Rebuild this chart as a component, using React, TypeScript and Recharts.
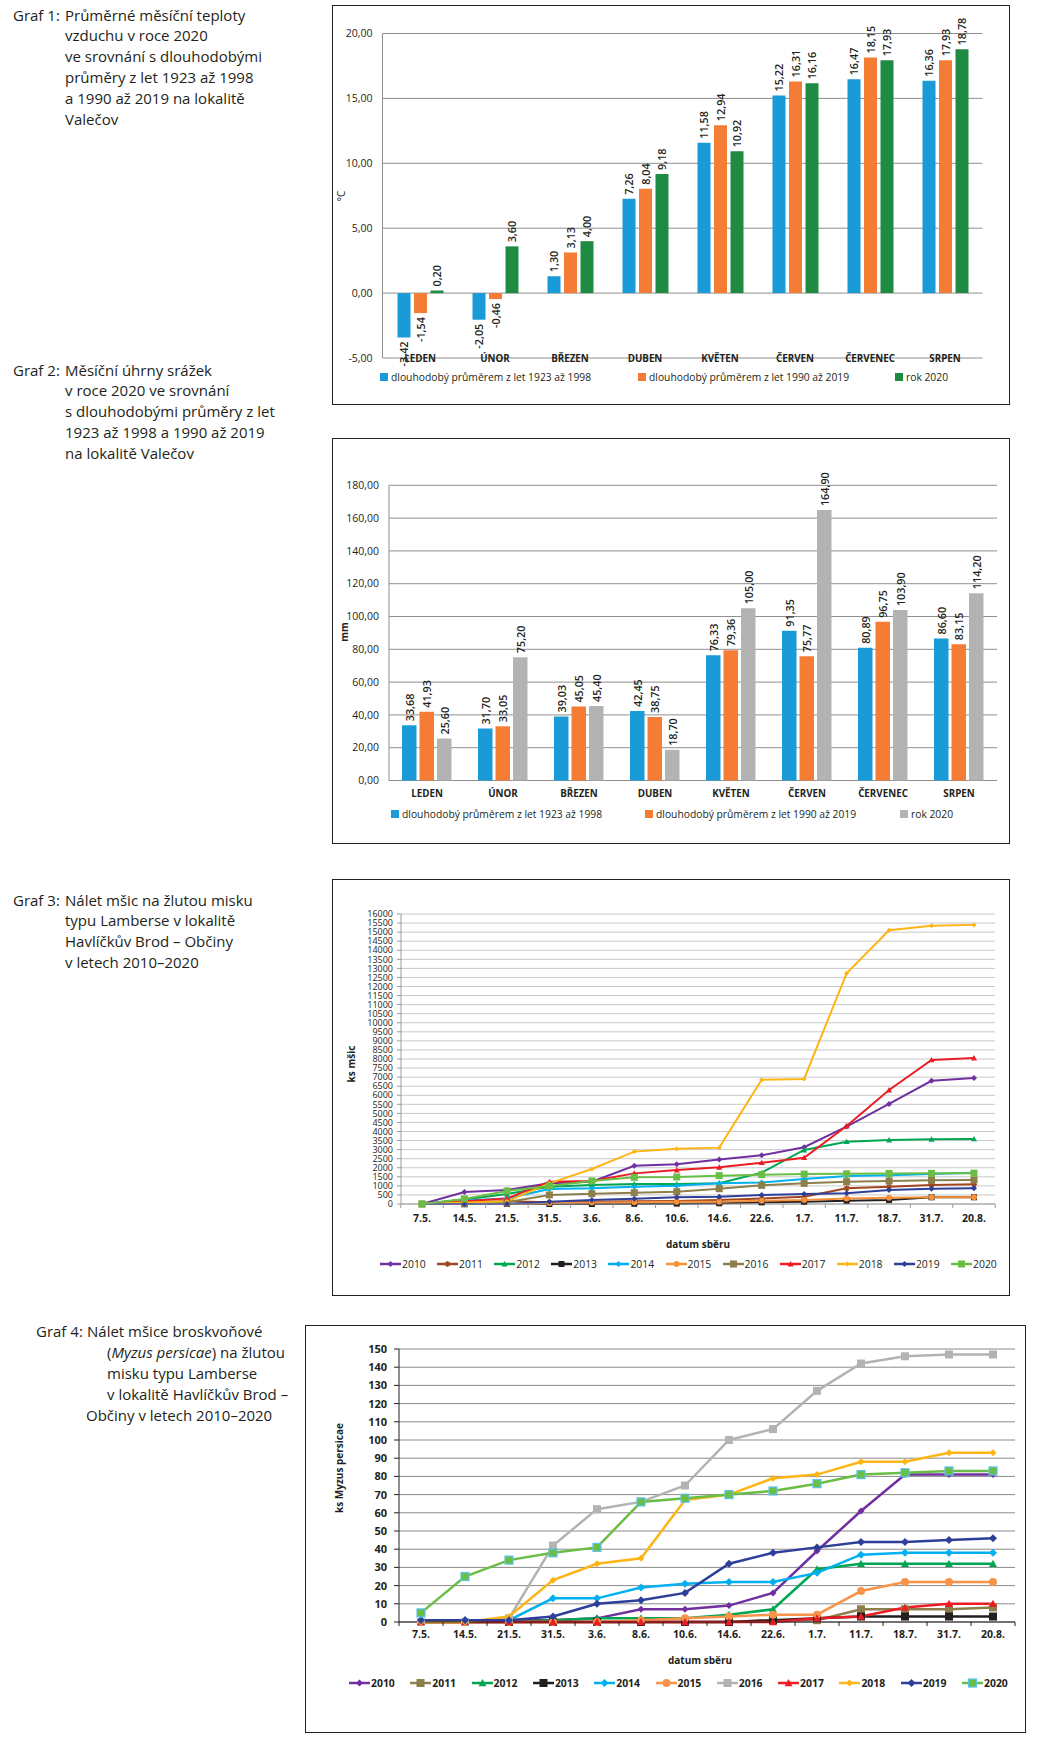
import React from 'react';
import { BarChart, Bar, LineChart, Line, XAxis, YAxis, CartesianGrid, LabelList } from 'recharts';

const FONT = '"Open Sans", "Noto Sans", "DejaVu Sans", sans-serif';
const INK = '#231F20';

// Graf 1 + 2: monthly values
const months = ['LEDEN', 'ÚNOR', 'BŘEZEN', 'DUBEN', 'KVĚTEN', 'ČERVEN', 'ČERVENEC', 'SRPEN'];
const tempOld = [-3.42, -2.05, 1.3, 7.26, 11.58, 15.22, 16.47, 16.36];
const tempRecent = [-1.54, -0.46, 3.13, 8.04, 12.94, 16.31, 18.15, 17.93];
const temp2020 = [0.2, 3.6, 4.0, 9.18, 10.92, 16.16, 17.93, 18.78];
const tempTicks = [-5, 0, 5, 10, 15, 20];

const rainOld = [33.68, 31.7, 39.03, 42.45, 76.33, 91.35, 80.89, 86.6];
const rainRecent = [41.93, 33.05, 45.05, 38.75, 79.36, 75.77, 96.75, 83.15];
const rain2020 = [25.6, 75.2, 45.4, 18.7, 105.0, 164.9, 103.9, 114.2];
const rainTicks = [0, 20, 40, 60, 80, 100, 120, 140, 160, 180];

const barNames = ['dlouhodobý průměrem z let 1923 až 1998', 'dlouhodobý průměrem z let 1990 až 2019', 'rok 2020'];

// Graf 3 + 4: collection dates
const dates = ['7.5.', '14.5.', '21.5.', '31.5.', '3.6.', '8.6.', '10.6.', '14.6.', '22.6.', '1.7.', '11.7.', '18.7.', '31.7.', '20.8.'];
const years = ['2010', '2011', '2012', '2013', '2014', '2015', '2016', '2017', '2018', '2019', '2020'];

const aphids2010 = [0, 660, 770, 1140, 1230, 2110, 2190, 2460, 2690, 3130, 4270, 5520, 6800, 6950];
const aphids2011 = [0, 120, 150, 100, 130, 150, 170, 220, 300, 405, 865, 955, 1050, 1085];
const aphids2012 = [0, 250, 550, 950, 1050, 1100, 1100, 1140, 1730, 2980, 3440, 3530, 3570, 3590];
const aphids2013 = [0, 0, 0, 0, 0, 10, 20, 40, 90, 130, 185, 220, 370, 370];
const aphids2014 = [0, 200, 310, 830, 865, 955, 1010, 1140, 1180, 1380, 1545, 1580, 1655, 1730];
const aphids2015 = [0, 0, 0, 50, 80, 100, 120, 130, 185, 220, 310, 350, 370, 370];
const aphids2016 = [0, 0, 100, 500, 570, 625, 680, 845, 1030, 1140, 1230, 1270, 1305, 1325];
const aphids2017 = [0, 150, 310, 1230, 1270, 1690, 1875, 2025, 2280, 2555, 4300, 6290, 7950, 8050];
const aphids2018 = [0, 80, 150, 1140, 1930, 2890, 3055, 3110, 6850, 6900, 12730, 15100, 15350, 15400];
const aphids2019 = [0, 0, 0, 130, 220, 295, 370, 405, 500, 550, 590, 775, 845, 865];
const aphids2020 = [0, 280, 720, 995, 1270, 1470, 1490, 1565, 1620, 1650, 1665, 1685, 1690, 1700];
const aphidTicks = [0, 500, 1000, 1500, 2000, 2500, 3000, 3500, 4000, 4500, 5000, 5500, 6000, 6500, 7000, 7500, 8000,
  8500, 9000, 9500, 10000, 10500, 11000, 11500, 12000, 12500, 13000, 13500, 14000, 14500, 15000, 15500, 16000];

const myzus2010 = [1, 1, 1, 1, 2, 7, 7, 9, 16, 39, 61, 81, 81, 81];
const myzus2011 = [0, 0, 0, 0, 0, 0, 0, 0, 1, 1, 7, 7, 7, 8];
const myzus2012 = [0, 0, 0, 1, 2, 2, 2, 4, 7, 29, 32, 32, 32, 32];
const myzus2013 = [0, 0, 0, 0, 0, 0, 0, 0, 1, 2, 3, 3, 3, 3];
const myzus2014 = [1, 1, 1, 13, 13, 19, 21, 22, 22, 27, 37, 38, 38, 38];
const myzus2015 = [0, 0, 0, 0, 0, 1, 2, 3, 4, 4, 17, 22, 22, 22];
const myzus2016 = [0, 0, 2, 42, 62, 66, 75, 100, 106, 127, 142, 146, 147, 147];
const myzus2017 = [0, 0, 0, 0, 0, 0, 0, 0, 0, 2, 3, 8, 10, 10];
const myzus2018 = [0, 0, 3, 23, 32, 35, 67, 70, 79, 81, 88, 88, 93, 93];
const myzus2019 = [1, 1, 1, 3, 10, 12, 16, 32, 38, 41, 44, 44, 45, 46];
const myzus2020 = [5, 25, 34, 38, 41, 66, 68, 70, 72, 76, 81, 82, 83, 83];
const myzusTicks = [0, 10, 20, 30, 40, 50, 60, 70, 80, 90, 100, 110, 120, 130, 140, 150];

// styling
const barColorsTemp = ['#1A9AD7', '#F47C34', '#1F8A42'];
const barColorsRain = ['#1A9AD7', '#F47C34', '#B3B3B3'];

const aphidColors = ['#7030A0', '#A0451F', '#00A651', INK, '#00B0F0', '#F7903A', '#8C7F4B', '#ED1C24', '#FDB515', '#2E3F99', '#6ABD45'];
const aphidShapes = ['diamond', 'star', 'triangle', 'square', 'diamond', 'circle', 'square', 'triangle', 'diamond', 'diamond', 'square'];
const aphidSizes = [6, 6, 6, 6, 6, 6, 7, 6, 5, 6, 7];

const myzusColors = ['#7030A0', '#8C7F4B', '#00A651', INK, '#00B0F0', '#F7944A', '#B3B3B3', '#ED1C24', '#FDB515', '#2E3F99', '#6ABD45'];
const myzusShapes = ['diamond', 'square', 'triangle', 'square', 'diamond', 'circle', 'square', 'triangle', 'diamond', 'diamond', 'square'];
const myzusSizes = [7, 8, 8, 8, 8, 8, 8, 8, 7, 8, 8];
const myzusOutline = [null, null, null, null, null, null, null, null, null, null, '#5BC3EE'];

const tempRows = months.map((m, i) => ({ month: m, old: tempOld[i], recent: tempRecent[i], now: temp2020[i] }));
const rainRows = months.map((m, i) => ({ month: m, old: rainOld[i], recent: rainRecent[i], now: rain2020[i] }));

const aphidSeries = [aphids2010, aphids2011, aphids2012, aphids2013, aphids2014, aphids2015, aphids2016, aphids2017, aphids2018, aphids2019, aphids2020];
const myzusSeries = [myzus2010, myzus2011, myzus2012, myzus2013, myzus2014, myzus2015, myzus2016, myzus2017, myzus2018, myzus2019, myzus2020];

const toRows = (series: number[][]) =>
  dates.map((d, i) => {
    const row: any = { date: d };
    years.forEach((y, k) => { row['y' + y] = series[k][i]; });
    return row;
  });

const aphidRows = toRows(aphidSeries);
const myzusRows = toRows(myzusSeries);

const fmt = (v: number) => v.toFixed(2).replace('.', ',');

function Marker({ shape, cx, cy, size, fill, stroke }: any) {
  const r = size / 2;
  if (shape === 'square')
    return <rect x={cx - r} y={cy - r} width={size} height={size} fill={fill} stroke={stroke || 'none'} strokeWidth={stroke ? 1.2 : 0} />;
  if (shape === 'circle') return <circle cx={cx} cy={cy} r={r} fill={fill} />;
  if (shape === 'triangle')
    return <polygon points={`${cx},${cy - r} ${cx + r},${cy + r * 0.8} ${cx - r},${cy + r * 0.8}`} fill={fill} />;
  if (shape === 'star') {
    const d = r * 0.7;
    return (
      <path
        d={`M${cx - r},${cy}H${cx + r}M${cx},${cy - r}V${cy + r}M${cx - d},${cy - d}L${cx + d},${cy + d}M${cx - d},${cy + d}L${cx + d},${cy - d}`}
        stroke={fill}
        strokeWidth={1.3}
      />
    );
  }
  return <polygon points={`${cx},${cy - r} ${cx + r},${cy} ${cx},${cy + r} ${cx - r},${cy}`} fill={fill} />;
}

const dotFor = (shape: string, color: string, size: number, stroke?: string | null) => (props: any) => {
  const { cx, cy, index } = props;
  if (cx == null || cy == null) return <g key={index} />;
  return <Marker key={index} shape={shape} cx={cx} cy={cy} size={size} fill={color} stroke={stroke} />;
};

const renderValueLabel = (props: any) => {
  const vb = props.viewBox && props.viewBox.width != null ? props.viewBox : props;
  const { x, y, width, height } = vb;
  const value = Number(props.value);
  const cx = x + width / 2;
  const top = Math.min(y, y + height);
  const bottom = Math.max(y, y + height);
  const neg = value < 0;
  const ay = neg ? bottom + 4 : top - 4;
  return (
    <text
      x={cx}
      y={ay}
      transform={`rotate(-90 ${cx} ${ay})`}
      textAnchor={neg ? 'end' : 'start'}
      dominantBaseline="central"
      fontSize={10.8}
      fontWeight={600}
      fontFamily={FONT}
      fill={INK}
    >
      {fmt(value)}
    </text>
  );
};

function MonthTick(props: any) {
  const { x, y, payload, labelDy } = props;
  return (
    <text x={x} y={y + labelDy} textAnchor="middle" fontSize={9.8} fontWeight={700} fontFamily={FONT} fill={INK}>
      {payload.value}
    </text>
  );
}

function DateTick(props: any) {
  const { x, y, payload, index, halfStep, total, markStroke, labelDy, weight, size } = props;
  return (
    <g>
      <line x1={x - halfStep} y1={y} x2={x - halfStep} y2={y + 4} stroke={markStroke} />
      {index === total - 1 && <line x1={x + halfStep} y1={y} x2={x + halfStep} y2={y + 4} stroke={markStroke} />}
      <text x={x} y={y + labelDy} textAnchor="middle" fontSize={size} fontWeight={weight} fontFamily={FONT} fill={INK}>
        {payload.value}
      </text>
    </g>
  );
}

function MonthBars({ rows, colors, ticks, width, height, margin, yWidth, barSize, barGap, monthDy }: any) {
  const keys = ['old', 'recent', 'now'];
  return (
    <BarChart width={width} height={height} data={rows} margin={margin} barGap={barGap}>
      <CartesianGrid vertical={false} stroke="#8f8f8f" />
      <XAxis
        dataKey="month"
        interval={0}
        axisLine={false}
        tickLine={false}
        tickSize={0}
        tickMargin={0}
        height={20}
        tick={<MonthTick labelDy={monthDy} />}
      />
      <YAxis
        domain={[ticks[0], ticks[ticks.length - 1]]}
        ticks={ticks}
        interval={0}
        width={yWidth}
        axisLine={{ stroke: '#8f8f8f' }}
        tickLine={false}
        tickMargin={4}
        tickFormatter={fmt}
        tick={{ fontSize: 10.5, fill: INK, fontFamily: FONT }}
      />
      {keys.map((k, i) => (
        <Bar key={k} dataKey={k} fill={colors[i]} barSize={barSize} isAnimationActive={false}>
          <LabelList dataKey={k} content={renderValueLabel} />
        </Bar>
      ))}
    </BarChart>
  );
}

function YearLines({ rows, colors, shapes, sizes, outlines, lineWidth, width, height, margin, yWidth, ticks, gridColor, axisColor,
  yTick, yTickSize, yTickMargin, xPad, xLabelDy, xWeight, xSize }: any) {
  const plotWidth = width - margin.left - margin.right - yWidth;
  const halfStep = (plotWidth - 2 * xPad) / (dates.length - 1) / 2;
  return (
    <LineChart width={width} height={height} data={rows} margin={margin}>
      <CartesianGrid vertical={false} stroke={gridColor} />
      <XAxis
        dataKey="date"
        interval={0}
        padding={{ left: xPad, right: xPad }}
        axisLine={{ stroke: axisColor }}
        tickLine={false}
        tickSize={0}
        tickMargin={0}
        height={30}
        tick={<DateTick halfStep={halfStep} total={dates.length} markStroke={axisColor} labelDy={xLabelDy} weight={xWeight} size={xSize} />}
      />
      <YAxis
        domain={[ticks[0], ticks[ticks.length - 1]]}
        ticks={ticks}
        interval={0}
        width={yWidth}
        axisLine={{ stroke: axisColor }}
        tickLine={{ stroke: axisColor }}
        tickSize={yTickSize}
        tickMargin={yTickMargin}
        tick={yTick}
      />
      {years.map((y, k) => (
        <Line
          key={y}
          type="linear"
          dataKey={'y' + y}
          stroke={colors[k]}
          strokeWidth={lineWidth}
          dot={dotFor(shapes[k], colors[k], sizes[k], outlines ? outlines[k] : null)}
          activeDot={false}
          isAnimationActive={false}
        />
      ))}
    </LineChart>
  );
}

function Caption({ top, labelLeft, label, lines }: { top: number; labelLeft: number; label: string; lines: [number, React.ReactNode][] }) {
  const lh = 20.8;
  return (
    <>
      <div style={{ position: 'absolute', left: labelLeft, top, fontSize: 15, lineHeight: lh + 'px', whiteSpace: 'nowrap' }}>{label}</div>
      {lines.map(([left, text], i) => (
        <div key={i} style={{ position: 'absolute', left, top: top + i * lh, fontSize: 15, lineHeight: lh + 'px', whiteSpace: 'nowrap' }}>
          {text}
        </div>
      ))}
    </>
  );
}

const Frame = ({ left, top, width, height }: any) => (
  <div style={{ position: 'absolute', left, top, width, height, border: `1.5px solid ${INK}`, boxSizing: 'border-box' }} />
);

const VText = ({ x, y, text, size = 10, weight = 700 }: any) => (
  <div
    style={{
      position: 'absolute', left: x, top: y, transform: 'translate(-50%, -50%) rotate(-90deg)',
      fontSize: size, fontWeight: weight, whiteSpace: 'nowrap', lineHeight: 1,
    }}
  >
    {text}
  </div>
);

const CText = ({ x, y, text, size = 10, weight = 700 }: any) => (
  <div style={{ position: 'absolute', left: x, top: y, transform: 'translate(-50%, -50%)', fontSize: size, fontWeight: weight, whiteSpace: 'nowrap', lineHeight: 1 }}>
    {text}
  </div>
);

function BarLegend({ y, lefts, colors }: any) {
  return (
    <>
      {barNames.map((n, i) => (
        <div key={n} style={{ position: 'absolute', left: lefts[i], top: y - 8, height: 16, display: 'flex', alignItems: 'center', whiteSpace: 'nowrap', fontSize: 10.3 }}>
          <span style={{ display: 'inline-block', width: 8, height: 8, background: colors[i], marginRight: 3 }} />
          {n}
        </div>
      ))}
    </>
  );
}

function LineLegend({ y, left, step, colors, shapes, sizes, outlines, bold, lineWidth }: any) {
  return (
    <>
      {years.map((n, i) => (
        <div key={n} style={{ position: 'absolute', left: left + i * step, top: y - 8, height: 16, display: 'flex', alignItems: 'center', whiteSpace: 'nowrap', fontSize: 10.4, fontWeight: bold ? 700 : 400 }}>
          <svg width={21} height={16} style={{ display: 'block' }}>
            <line x1={0} y1={8} x2={21} y2={8} stroke={colors[i]} strokeWidth={lineWidth} />
            <Marker shape={shapes[i]} cx={10.5} cy={8} size={sizes[i]} fill={colors[i]} stroke={outlines ? outlines[i] : null} />
          </svg>
          <span style={{ marginLeft: 1 }}>{n}</span>
        </div>
      ))}
    </>
  );
}

export default function App() {
  return (
    <div style={{ position: 'absolute', left: 0, top: 0, width: 1040, height: 1758, background: '#fff', fontFamily: FONT, color: INK, overflow: 'hidden' }}>
      {/* Graf 1 */}
      <Caption
        top={4.6}
        labelLeft={13}
        label="Graf 1:"
        lines={[
          [65, 'Průměrné měsíční teploty'],
          [65, 'vzduchu v roce 2020'],
          [65, 've srovnání s dlouhodobými'],
          [65, 'průměry z let 1923 až 1998'],
          [65, 'a 1990 až 2019 na lokalitě'],
          [65, 'Valečov'],
        ]}
      />
      <Frame left={332} top={5} width={678} height={400} />
      <div style={{ position: 'absolute', left: 332, top: 5 }}>
        <MonthBars
          rows={tempRows}
          colors={barColorsTemp}
          ticks={tempTicks}
          width={678}
          height={400}
          margin={{ top: 28.5, right: 27.5, left: 8.5, bottom: 27 }}
          yWidth={42}
          barSize={13}
          barGap={3.5}
          monthDy={4}
        />
      </div>
      <VText x={341} y={196} text="°C" size={10} weight={400} />
      <BarLegend y={377} lefts={[380, 638, 895]} colors={barColorsTemp} />

      {/* Graf 2 */}
      <Caption
        top={359.6}
        labelLeft={13}
        label="Graf 2:"
        lines={[
          [65, 'Měsíční úhrny srážek'],
          [65, 'v roce 2020 ve srovnání'],
          [65, 's dlouhodobými průměry z let'],
          [65, '1923 až 1998 a 1990 až 2019'],
          [65, 'na lokalitě Valečov'],
        ]}
      />
      <Frame left={332} top={438} width={678} height={406} />
      <div style={{ position: 'absolute', left: 332, top: 438 }}>
        <MonthBars
          rows={rainRows}
          colors={barColorsRain}
          ticks={rainTicks}
          width={678}
          height={406}
          margin={{ top: 47.3, right: 13, left: 12, bottom: 43.5 }}
          yWidth={45}
          barSize={14.5}
          barGap={3}
          monthDy={16}
        />
      </div>
      <VText x={344} y={632} text="mm" size={10} weight={700} />
      <BarLegend y={814} lefts={[391, 645, 900]} colors={barColorsRain} />

      {/* Graf 3 */}
      <Caption
        top={889.6}
        labelLeft={13}
        label="Graf 3:"
        lines={[
          [65, 'Nálet mšic na žlutou misku'],
          [65, 'typu Lamberse v lokalitě'],
          [65, 'Havlíčkův Brod – Občiny'],
          [65, 'v letech 2010–2020'],
        ]}
      />
      <Frame left={332} top={879} width={678} height={417} />
      <div style={{ position: 'absolute', left: 332, top: 879 }}>
        <YearLines
          rows={aphidRows}
          colors={aphidColors}
          shapes={aphidShapes}
          sizes={aphidSizes}
          lineWidth={2}
          width={678}
          height={417}
          margin={{ top: 35, right: 15, left: 24, bottom: 62 }}
          yWidth={45}
          ticks={aphidTicks}
          gridColor="#C8C8C8"
          axisColor="#9A9A9A"
          yTick={{ fontSize: 9, fill: INK, fontFamily: FONT }}
          yTickSize={4}
          yTickMargin={4}
          xPad={21}
          xLabelDy={18}
          xWeight={700}
          xSize={10.5}
        />
      </div>
      <VText x={351} y={1064} text="ks mšic" size={10} />
      <CText x={698} y={1244} text="datum sběru" size={10} />
      <LineLegend y={1264} left={380} step={57.1} colors={aphidColors} shapes={aphidShapes} sizes={aphidSizes} bold={false} lineWidth={2.5} />

      {/* Graf 4 */}
      <div style={{ position: 'absolute', left: 36, top: 1321.3, fontSize: 15, lineHeight: '20.8px', whiteSpace: 'nowrap' }}>Graf 4:</div>
      <div style={{ position: 'absolute', left: 87, top: 1321.3, fontSize: 15, lineHeight: '20.8px', whiteSpace: 'nowrap' }}>Nálet mšice broskvoňové</div>
      <div style={{ position: 'absolute', left: 107, top: 1342.1, fontSize: 15, lineHeight: '20.8px', whiteSpace: 'nowrap' }}>
        (<i>Myzus persicae</i>) na žlutou
      </div>
      <div style={{ position: 'absolute', left: 107, top: 1362.9, fontSize: 15, lineHeight: '20.8px', whiteSpace: 'nowrap' }}>misku typu Lamberse</div>
      <div style={{ position: 'absolute', left: 107, top: 1383.7, fontSize: 15, lineHeight: '20.8px', whiteSpace: 'nowrap' }}>v lokalitě Havlíčkův Brod –</div>
      <div style={{ position: 'absolute', left: 86, top: 1404.5, fontSize: 15, lineHeight: '20.8px', whiteSpace: 'nowrap' }}>Občiny v letech 2010–2020</div>
      <Frame left={305} top={1325} width={721} height={408} />
      <div style={{ position: 'absolute', left: 305, top: 1325 }}>
        <YearLines
          rows={myzusRows}
          colors={myzusColors}
          shapes={myzusShapes}
          sizes={myzusSizes}
          outlines={myzusOutline}
          lineWidth={2.5}
          width={721}
          height={408}
          margin={{ top: 24, right: 11, left: 54, bottom: 81 }}
          yWidth={40}
          ticks={myzusTicks}
          gridColor="#8A8A8A"
          axisColor={INK}
          yTick={{ fontSize: 11, fill: INK, fontFamily: FONT, fontWeight: 700 }}
          yTickSize={5}
          yTickMargin={7}
          xPad={22}
          xLabelDy={16}
          xWeight={700}
          xSize={10.5}
        />
      </div>
      <VText x={339} y={1468} text="ks Myzus persicae" size={10} />
      <CText x={700} y={1660} text="datum sběru" size={10} />
      <LineLegend y={1683} left={349} step={61.3} colors={myzusColors} shapes={myzusShapes} sizes={myzusSizes} outlines={myzusOutline} bold lineWidth={2.5} />
    </div>
  );
}
